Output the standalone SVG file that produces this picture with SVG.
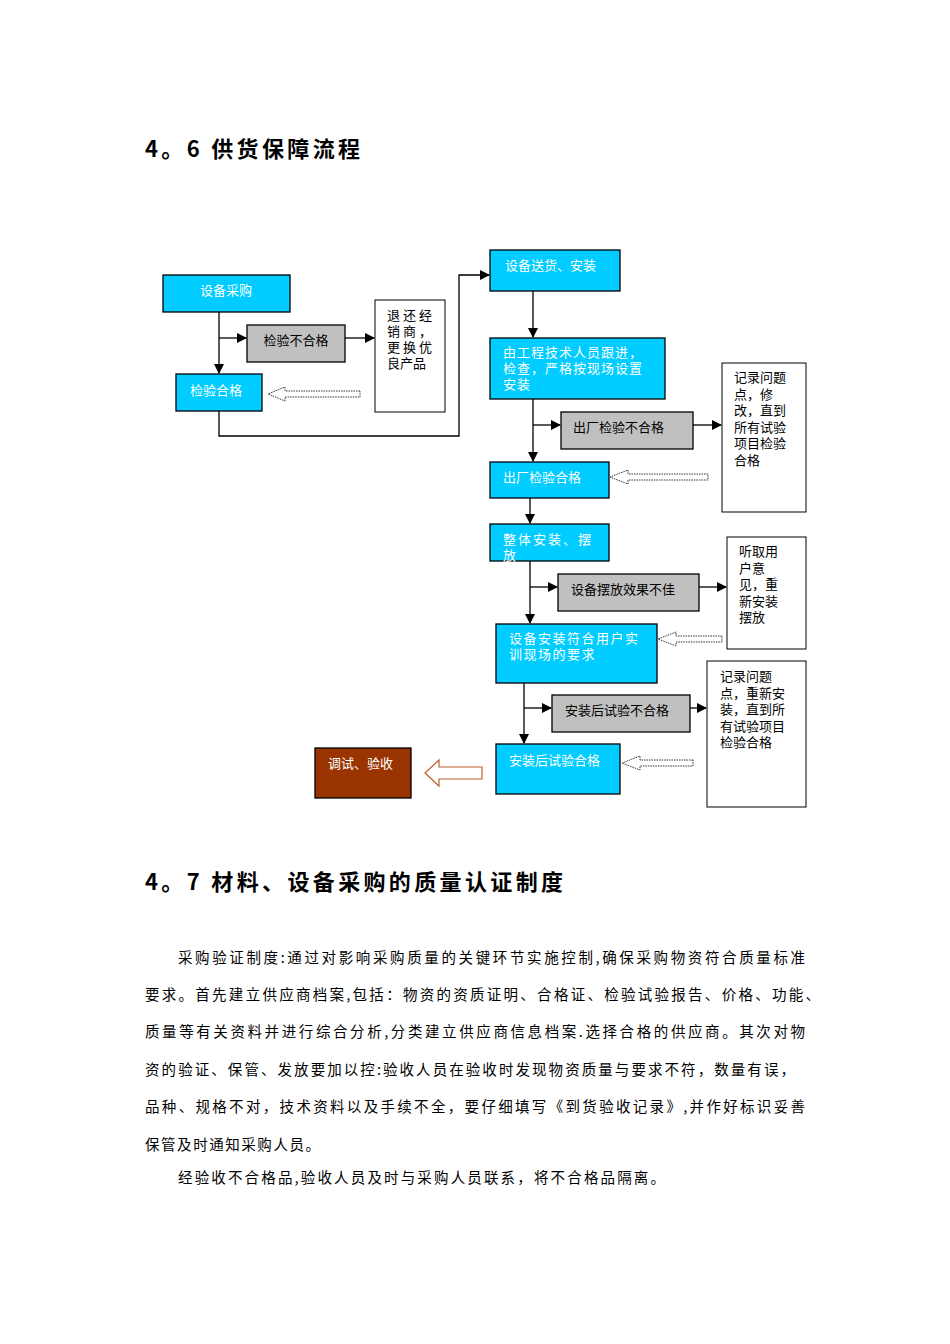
<svg xmlns="http://www.w3.org/2000/svg" width="950" height="1344" viewBox="0 0 950 1344">
<style>
text{font-family:"Noto Sans CJK SC","Liberation Sans",sans-serif}
.b{fill:#00ccff;stroke:#000;stroke-width:1.3}
.g{fill:#c0c0c0;stroke:#000;stroke-width:1.3}
.w{fill:#fff;stroke:#000;stroke-width:1}
.tw{fill:#fff;font-size:13px}
.tk{fill:#000;font-size:13px}
.c{fill:none;stroke:#000;stroke-width:1.3}
.h{fill:#fff;stroke:#000;stroke-width:0.8;stroke-dasharray:1.5 1}
.h1{font-size:22px;font-weight:bold;font-family:"Noto Sans CJK SC",serif}
.p{font-size:14.5px;font-family:"Noto Sans CJK SC",serif;fill:#000}
</style>
<defs><marker id="a" markerWidth="10" markerHeight="10" refX="9" refY="5" orient="auto" markerUnits="userSpaceOnUse"><path d="M0,0 L10,5 L0,10 Z" fill="#000"/></marker></defs>
<rect width="950" height="1344" fill="#fff"/>
<text x="145" y="157" class="h1" textLength="215" lengthAdjust="spacing">4。6 供货保障流程</text>
<g id="connectors">
<path class="c" d="M219,312 V373" marker-end="url(#a)"/>
<path class="c" d="M219,338 H246" marker-end="url(#a)"/>
<path class="c" d="M345,338 H374" marker-end="url(#a)"/>
<path class="c" d="M219,411 V436 H459 V275 H489" marker-end="url(#a)"/>
<path class="c" d="M533,291 V337" marker-end="url(#a)"/>
<path class="c" d="M533,399 V461" marker-end="url(#a)"/>
<path class="c" d="M533,425 H560" marker-end="url(#a)"/>
<path class="c" d="M693,425 H721" marker-end="url(#a)"/>
<path class="c" d="M530,498 V523" marker-end="url(#a)"/>
<path class="c" d="M530,561 V623" marker-end="url(#a)"/>
<path class="c" d="M530,587 H557" marker-end="url(#a)"/>
<path class="c" d="M699,587 H726" marker-end="url(#a)"/>
<path class="c" d="M524,683 V743" marker-end="url(#a)"/>
<path class="c" d="M524,708 H551" marker-end="url(#a)"/>
<path class="c" d="M690,708 H706" marker-end="url(#a)"/>
<path class="h" d="M360,391 H285 V387 L268,394 L285,401 V397 H360 Z"/>
<path class="h" d="M708,474 H628 V470 L610,477 L628,484 V480 H708 Z"/>
<path class="h" d="M722,636 H676 V632 L658,639 L676,646 V642 H722 Z"/>
<path class="h" d="M693,760 H640 V756 L622,763 L640,770 V766 H693 Z"/>
<path d="M482,767 H439 V760 L425,773 L439,786 V779 H482 Z" fill="#fff" stroke="#c0602a" stroke-width="1.2"/>
</g>
<g id="n1"><rect class="b" x="163" y="275" width="127" height="37"/><text class="tw" x="226" y="295" text-anchor="middle">设备采购</text></g>
<g id="n2"><rect class="g" x="247" y="325" width="98" height="37"/><text class="tk" x="296" y="345" text-anchor="middle">检验不合格</text></g>
<g id="n3"><rect class="w" x="375" y="300" width="70" height="112"/><text class="tk" x="387" y="320" letter-spacing="3">退还经</text><text class="tk" x="387" y="336" letter-spacing="3">销商，</text><text class="tk" x="387" y="352" letter-spacing="3">更换优</text><text class="tk" x="387" y="368">良产品</text></g>
<g id="n4"><rect class="b" x="176" y="374" width="86" height="37"/><text class="tw" x="190" y="395">检验合格</text></g>
<g id="n5"><rect class="b" x="490" y="250" width="130" height="41"/><text class="tw" x="505" y="270">设备送货、安装</text></g>
<g id="n6"><rect class="b" x="490" y="338" width="175" height="61"/><text class="tw" x="503" y="357" letter-spacing="1"><tspan x="503">由工程技术人员跟进，</tspan><tspan x="503" dy="16">检查，严格按现场设置</tspan><tspan x="503" dy="16">安装</tspan></text></g>
<g id="n7"><rect class="g" x="561" y="412" width="132" height="37"/><text class="tk" x="573" y="432">出厂检验不合格</text></g>
<g id="n8"><rect class="w" x="722" y="363" width="84" height="149"/><text class="tk" x="734" y="382"><tspan x="734">记录问题</tspan><tspan x="734" dy="16.5">点，修</tspan><tspan x="734" dy="16.5">改，直到</tspan><tspan x="734" dy="16.5">所有试验</tspan><tspan x="734" dy="16.5">项目检验</tspan><tspan x="734" dy="16.5">合格</tspan></text></g>
<g id="n9"><rect class="b" x="490" y="462" width="119" height="36"/><text class="tw" x="503" y="482">出厂检验合格</text></g>
<g id="n10"><rect class="b" x="490" y="524" width="119" height="37"/><text class="tw" x="503" y="544" letter-spacing="2"><tspan x="503">整体安装、摆</tspan><tspan x="503" dy="16">放</tspan></text></g>
<g id="n11"><rect class="g" x="558" y="574" width="141" height="37"/><text class="tk" x="571" y="594">设备摆放效果不佳</text></g>
<g id="n12"><rect class="w" x="727" y="537" width="79" height="112"/><text class="tk" x="739" y="556"><tspan x="739">听取用</tspan><tspan x="739" dy="16.5">户意</tspan><tspan x="739" dy="16.5">见，重</tspan><tspan x="739" dy="16.5">新安装</tspan><tspan x="739" dy="16.5">摆放</tspan></text></g>
<g id="n13"><rect class="b" x="496" y="624" width="161" height="59"/><text class="tw" x="509" y="643" letter-spacing="1.5"><tspan x="509">设备安装符合用户实</tspan><tspan x="509" dy="16">训现场的要求</tspan></text></g>
<g id="n14"><rect class="g" x="552" y="695" width="138" height="37"/><text class="tk" x="565" y="715">安装后试验不合格</text></g>
<g id="n15"><rect class="w" x="707" y="661" width="99" height="146"/><text class="tk" x="720" y="681"><tspan x="720">记录问题</tspan><tspan x="720" dy="16.5">点，重新安</tspan><tspan x="720" dy="16.5">装，直到所</tspan><tspan x="720" dy="16.5">有试验项目</tspan><tspan x="720" dy="16.5">检验合格</tspan></text></g>
<g id="n16"><rect class="b" x="496" y="744" width="124" height="50"/><text class="tw" x="509" y="765">安装后试验合格</text></g>
<g id="n17"><rect x="315" y="748" width="96" height="50" fill="#993300" stroke="#000" stroke-width="1.3"/><text class="tw" x="328" y="768">调试、验收</text></g>
<text x="145" y="890" class="h1" textLength="418" lengthAdjust="spacing">4。7 材料、设备采购的质量认证制度</text>
<text class="p" x="178" y="963" textLength="627" lengthAdjust="spacing">采购验证制度:通过对影响采购质量的关键环节实施控制,确保采购物资符合质量标准</text>
<text class="p" x="145" y="1000" textLength="675" lengthAdjust="spacing">要求。首先建立供应商档案,包括：物资的资质证明、合格证、检验试验报告、价格、功能、</text>
<text class="p" x="145" y="1037" textLength="660" lengthAdjust="spacing">质量等有关资料并进行综合分析,分类建立供应商信息档案.选择合格的供应商。其次对物</text>
<text class="p" x="145" y="1075" textLength="650" lengthAdjust="spacing">资的验证、保管、发放要加以控:验收人员在验收时发现物资质量与要求不符，数量有误，</text>
<text class="p" x="145" y="1112" textLength="660" lengthAdjust="spacing">品种、规格不对，技术资料以及手续不全，要仔细填写《到货验收记录》,并作好标识妥善</text>
<text class="p" x="145" y="1150" textLength="175" lengthAdjust="spacing">保管及时通知采购人员。</text>
<text class="p" x="178" y="1183" textLength="487" lengthAdjust="spacing">经验收不合格品,验收人员及时与采购人员联系，将不合格品隔离。</text>
</svg>
